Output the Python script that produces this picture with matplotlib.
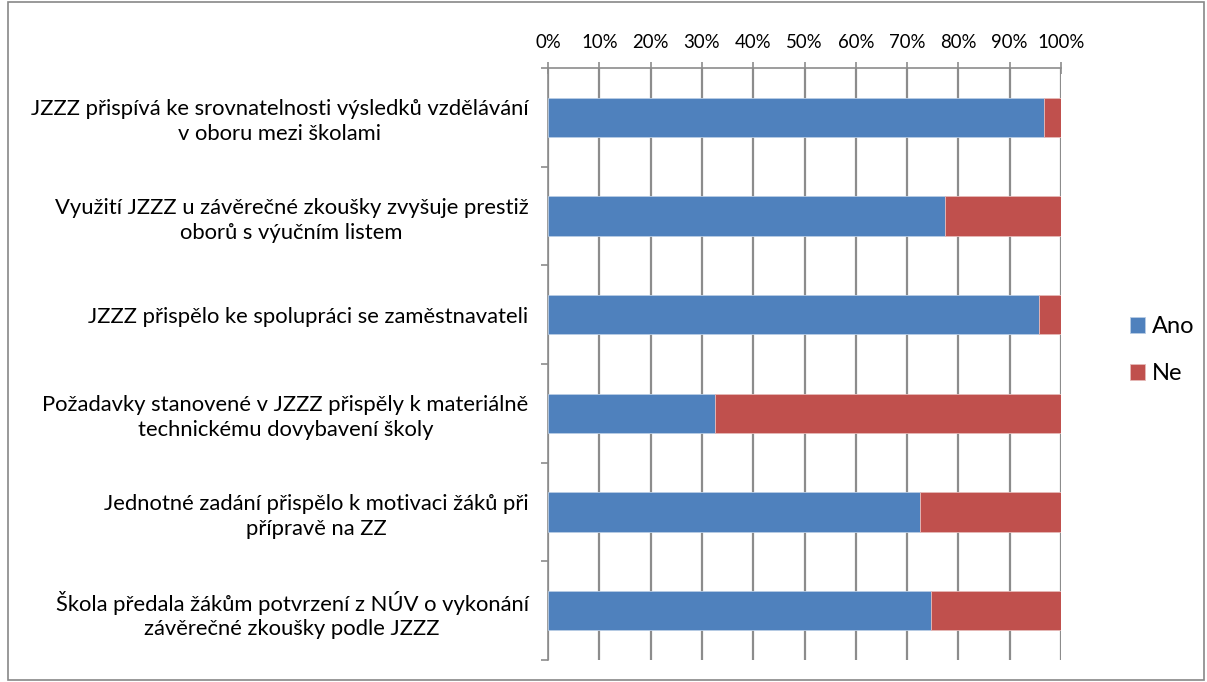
import matplotlib.pyplot as plt
from matplotlib.patches import Rectangle
from matplotlib.ticker import PercentFormatter

plt.rcParams['font.family'] = ['Lato', 'DejaVu Sans']

categories = [
    "JZZZ přispívá ke srovnatelnosti výsledků vzdělávání\nv oboru mezi školami",
    "Využití JZZZ u závěrečné zkoušky zvyšuje prestiž\noborů s výučním listem",
    "JZZZ přispělo ke spolupráci se zaměstnavateli",
    "Požadavky stanovené v JZZZ přispěly k materiálně\ntechnickému dovybavení školy",
    "Jednotné zadání přispělo k motivaci žáků při\npřípravě na ZZ",
    "Škola předala žákům potvrzení z NÚV o vykonání\nzávěrečné zkoušky podle JZZZ",
]
ano = [96.6, 77.4, 95.8, 32.6, 72.6, 74.7]
ne = [100 - v for v in ano]

blue = '#4F81BD'
red = '#C0504D'
grid_col = '#8C8C8C'

fig = plt.figure(figsize=(12.07, 6.82), dpi=100)
ax = fig.add_axes([548 / 1207, 1 - 660 / 682, 513 / 1207, 592 / 682])

pos = list(range(len(categories)))
ax.barh(pos, ano, height=0.4, color=blue, edgecolor='#B9CDE5', linewidth=0.6, label='Ano', zorder=3)
ax.barh(pos, ne, left=ano, height=0.4, color=red, edgecolor='#E6B9B8', linewidth=0.6, label='Ne', zorder=3)

ax.set_xlim(0, 100)
ax.set_ylim(len(categories) - 0.5, -0.5)
ax.set_xticks(range(0, 101, 10))
ax.xaxis.set_major_formatter(PercentFormatter(decimals=0))
ax.xaxis.tick_top()
ax.tick_params(axis='x', direction='inout', length=9, width=1.2, color=grid_col,
               labelsize=13.4, pad=8)
ax.grid(axis='x', color=grid_col, linewidth=1.6, zorder=0)

ax.set_yticks(pos)
ax.set_yticklabels(categories, multialignment='center', fontsize=15.8, linespacing=1.3)
ax.set_yticks([p + 0.5 for p in [-1] + pos], minor=True)
ax.tick_params(axis='y', which='major', length=0, pad=14)
ax.tick_params(axis='y', which='minor', length=5, width=1.2, color=grid_col, direction='out')

for side in ['right', 'bottom']:
    ax.spines[side].set_visible(False)
for side in ['top', 'left']:
    ax.spines[side].set_color(grid_col)
    ax.spines[side].set_linewidth(1.2)

ax.legend(loc='center left', bbox_to_anchor=(1118 / 1207, 1 - 350 / 682),
          bbox_transform=fig.transFigure, frameon=False, fontsize=17,
          handlelength=0.65, handleheight=0.65, handletextpad=0.3, labelspacing=1.1,
          borderpad=0)

fig.patches.append(Rectangle((8 / 1207, 2 / 682), 1196 / 1207, 678 / 682,
                             transform=fig.transFigure, fill=False,
                             edgecolor='#888888', linewidth=1.2))

fig.savefig('out.png', dpi=100)
